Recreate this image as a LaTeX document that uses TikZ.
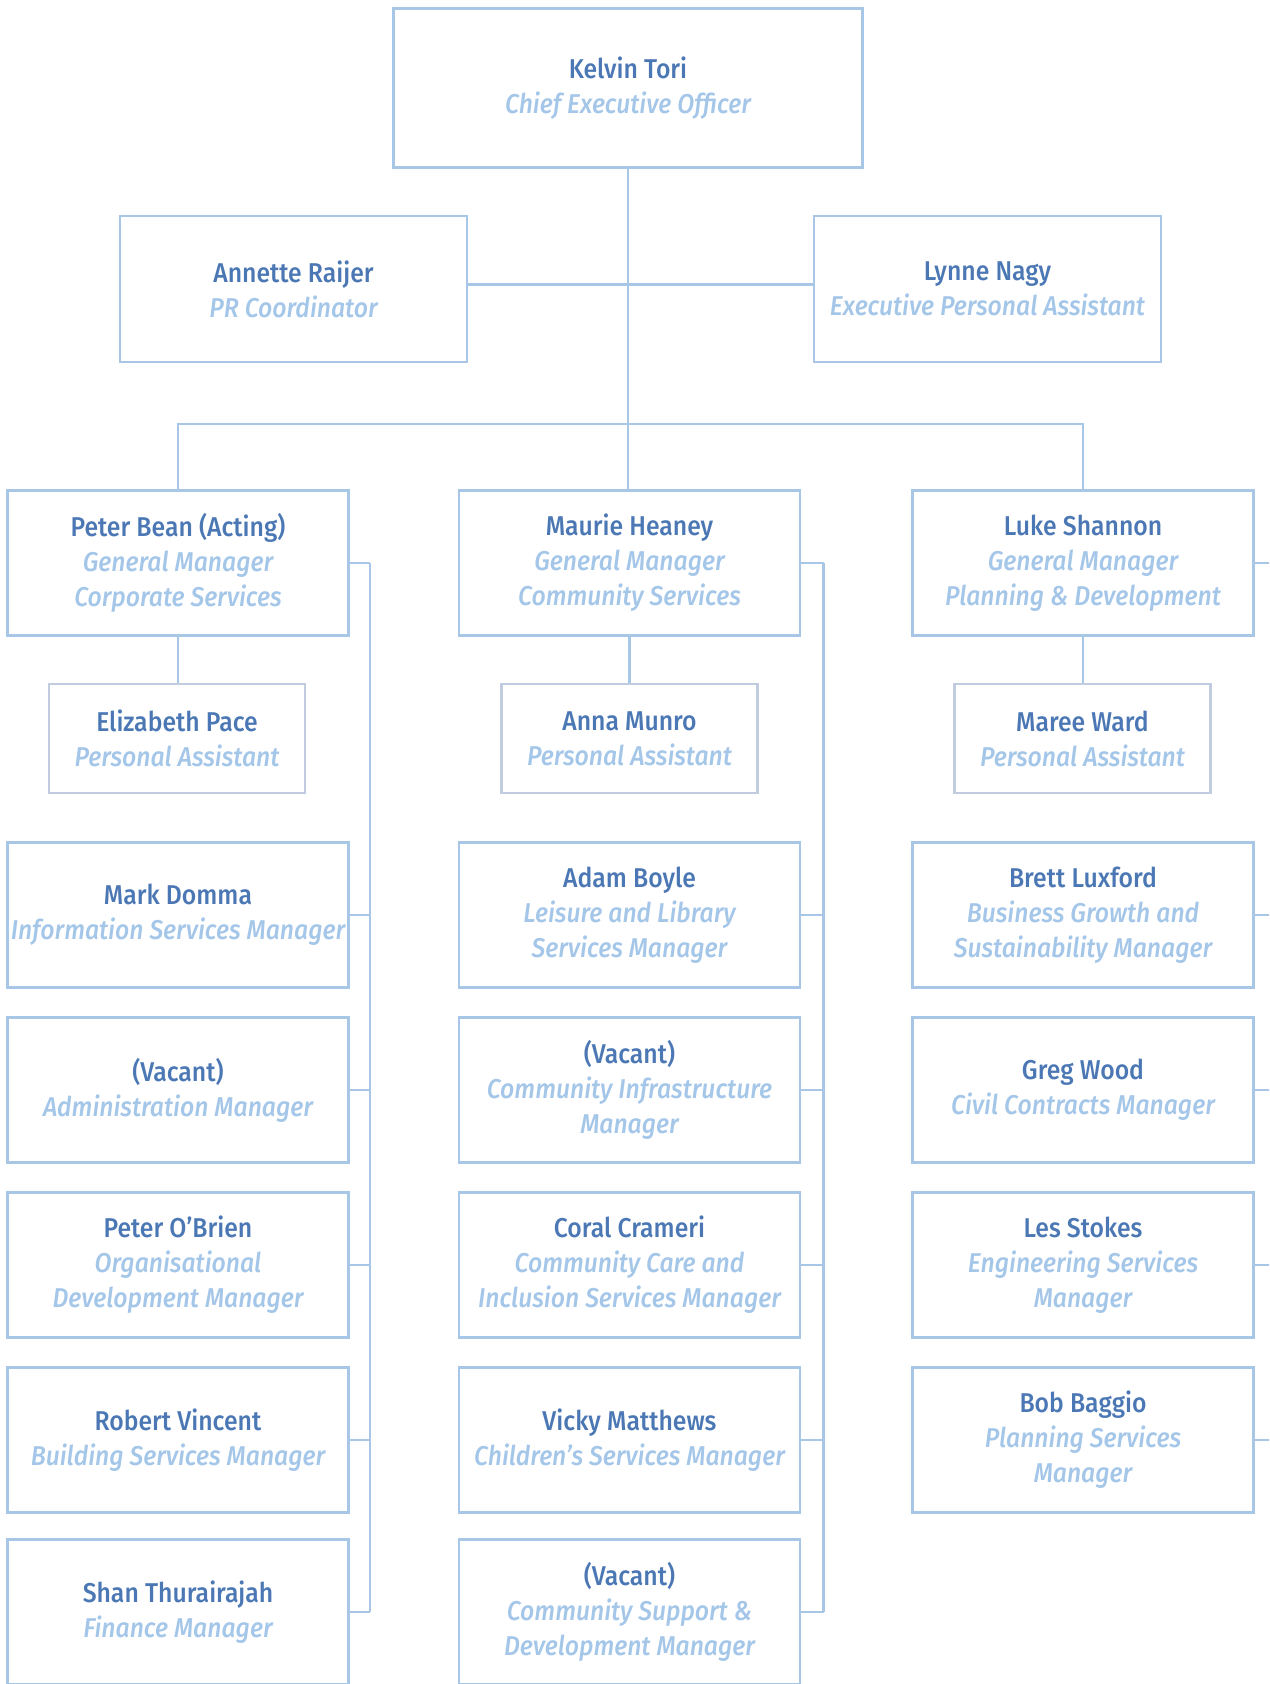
\documentclass[tikz,border=0pt]{standalone}
\usepackage{fontspec}
\setmainfont{Fira Sans}
\newfontfamily\namefont[FakeStretch=0.91]{Fira Sans Medium}
\newfontfamily\titlefont[FakeStretch=0.91]{Fira Sans Medium Italic}
\definecolor{namec}{HTML}{4B78B4}
\definecolor{titlec}{HTML}{A4C6E8}
\definecolor{boxc}{HTML}{A8C6E6}
\definecolor{pac}{HTML}{C2CCE0}
\newcommand\nm[1]{{\color{namec}\namefont #1}}
\newcommand\tl[1]{{\color{titlec}\titlefont #1}}
\tikzset{
  ob/.style={draw=boxc, line width=1.35pt, inner sep=0pt, align=center,
    font=\fontsize{13.6}{17.5}\selectfont},
  ceobox/.style={ob, minimum width=234.5pt, minimum height=79.5pt},
  sidebox/.style={ob, minimum width=173.5pt, minimum height=73pt},
  gmbox/.style={ob, minimum width=170.5pt, minimum height=72.5pt},
  pabox/.style={ob, draw=pac, minimum width=128pt, minimum height=54.5pt},
  conn/.style={draw=boxc, line width=1.3pt}
}
\begin{document}
\begin{tikzpicture}[x=0.5pt,y=-0.5pt]
\useasboundingbox (0,0) rectangle (1269,1684);
\clip (0,0) rectangle (1269,1684);
% top
\node[ceobox] (ceo) at (628,88) {\nm{Kelvin Tori}\\\tl{Chief Executive Officer}};
\node[sidebox] (pr) at (293.5,289) {\nm{Annette Raijer}\\\tl{PR Coordinator}};
\node[sidebox] (epa) at (987.5,289) {\nm{Lynne Nagy}\\\tl{Executive Personal Assistant}};
% general managers
\node[gmbox] (gm1) at (178,563) {\nm{Peter Bean (Acting)}\\\tl{General Manager}\\\tl{Corporate Services}};
\node[gmbox] (gm2) at (629.5,563) {\nm{Maurie Heaney}\\\tl{General Manager}\\\tl{Community Services}};
\node[gmbox] (gm3) at (1083,563) {\nm{Luke Shannon}\\\tl{General Manager}\\\tl{Planning \& Development}};
% personal assistants
\node[pabox] (pa1) at (177,738.5) {\nm{Elizabeth Pace}\\\tl{Personal Assistant}};
\node[pabox] (pa2) at (629.5,738.5) {\nm{Anna Munro}\\\tl{Personal Assistant}};
\node[pabox] (pa3) at (1082.5,738.5) {\nm{Maree Ward}\\\tl{Personal Assistant}};
% left column
\node[gmbox] (l1) at (178,915) {\nm{Mark Domma}\\\tl{Information Services Manager}};
\node[gmbox] (l2) at (178,1090) {\nm{(Vacant)}\\\tl{Administration Manager}};
\node[gmbox] (l3) at (178,1265) {\nm{Peter O’Brien}\\\tl{Organisational}\\\tl{Development Manager}};
\node[gmbox] (l4) at (178,1440) {\nm{Robert Vincent}\\\tl{Building Services Manager}};
\node[gmbox] (l5) at (178,1612) {\nm{Shan Thurairajah}\\\tl{Finance Manager}};
% middle column
\node[gmbox] (m1) at (629.5,915) {\nm{Adam Boyle}\\\tl{Leisure and Library}\\\tl{Services Manager}};
\node[gmbox] (m2) at (629.5,1090) {\nm{(Vacant)}\\\tl{Community Infrastructure}\\\tl{Manager}};
\node[gmbox] (m3) at (629.5,1265) {\nm{Coral Crameri}\\\tl{Community Care and}\\\tl{Inclusion Services Manager}};
\node[gmbox] (m4) at (629.5,1440) {\nm{Vicky Matthews}\\\tl{Children’s Services Manager}};
\node[gmbox] (m5) at (629.5,1612) {\nm{(Vacant)}\\\tl{Community Support \&}\\\tl{Development Manager}};
% right column
\node[gmbox] (r1) at (1083,915) {\nm{Brett Luxford}\\\tl{Business Growth and}\\\tl{Sustainability Manager}};
\node[gmbox] (r2) at (1083,1090) {\nm{Greg Wood}\\\tl{Civil Contracts Manager}};
\node[gmbox] (r3) at (1083,1265) {\nm{Les Stokes}\\\tl{Engineering Services}\\\tl{Manager}};
\node[gmbox] (r4) at (1083,1440) {\nm{Bob Baggio}\\\tl{Planning Services}\\\tl{Manager}};
% helper coordinates
\coordinate (j1) at (628,284.5);
\coordinate (bus) at (628,424);
\coordinate (lb) at (370,0);
\coordinate (mb) at (823.5,0);
\coordinate (rb) at (1275,0);
% connectors
\draw[conn] (ceo.south) -- (ceo.south |- gm2.north);
\draw[conn] (pr.east |- j1) -- (epa.west |- j1);
\draw[conn] (gm1.north) -- (gm1.north |- bus) -- (gm3.north |- bus) -- (gm3.north);
\foreach \g/\p in {gm1/pa1,gm2/pa2,gm3/pa3}
  \draw[conn] (\g.south) -- (\g.south |- \p.north);
\foreach \b in {gm1,l1,l2,l3,l4,l5}
  \draw[conn] (\b.east) -- (\b.east -| lb);
\draw[conn] (gm1.east -| lb) -- (l5.east -| lb);
\foreach \b in {gm2,m1,m2,m3,m4,m5}
  \draw[conn] (\b.east) -- (\b.east -| mb);
\draw[conn] (gm2.east -| mb) -- (m5.east -| mb);
\foreach \b in {gm3,r1,r2,r3,r4}
  \draw[conn] (\b.east) -- (\b.east -| rb);
\end{tikzpicture}
\end{document}
